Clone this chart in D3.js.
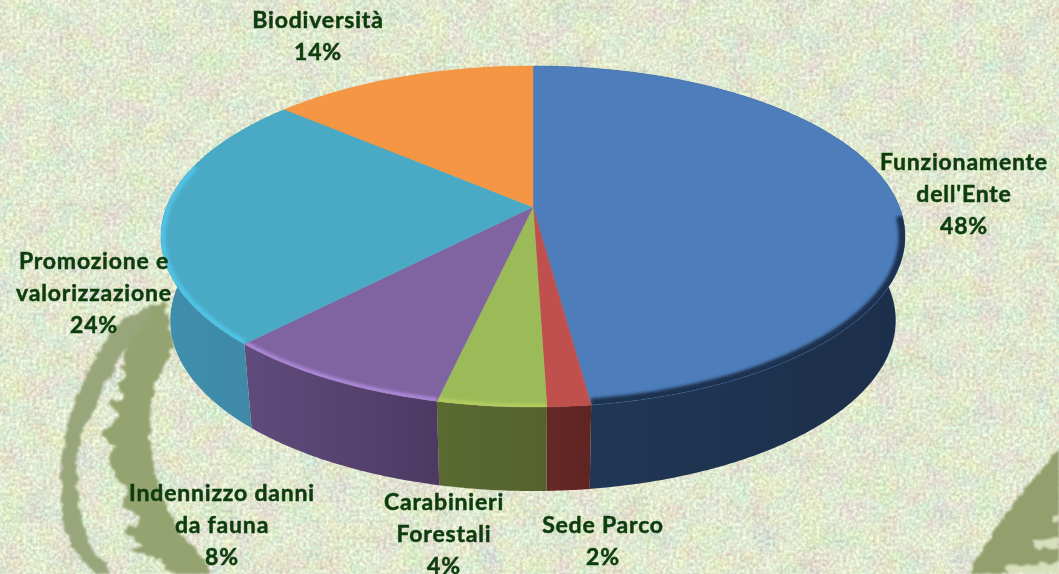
<html lang="it">
<head>
<style>
html, body { margin: 0; padding: 0; background: #dfe5c8; }
svg { display: block; }
.lbl { font-family: Lato, "Liberation Sans", sans-serif; font-weight: 700; font-size: 23px; letter-spacing: 0.8px; fill: #0c3c0c; stroke: #0c3c0c; stroke-width: 0.5px; text-anchor: middle; dominant-baseline: middle; }
</style>
</head>
<body>
<script src="https://d3js.org/d3.v7.min.js"></script>
<script>
// data (share of the circle, the printed labels are rounded)
const categories = ["Funzionamente dell'Ente", "Sede Parco", "Carabinieri Forestali", "Indennizzo danni da fauna", "Promozione e valorizzazione", "Biodiversità"];
const values = [47.9, 1.6, 4.0, 8.6, 24.3, 13.6];
const percentLabels = ["48%", "2%", "4%", "8%", "24%", "14%"];

// how each category name breaks over lines
const nameLines = [
  ["Funzionamente", "dell'Ente"],
  ["Sede Parco"],
  ["Carabinieri", "Forestali"],
  ["Indennizzo danni", "da fauna"],
  ["Promozione e", "valorizzazione"],
  ["Biodiversità"]
];

// styles
const topColors = ["#4d7dba", "#bf504d", "#9bbb59", "#8063a1", "#4aaac5", "#f49644"];
const rimColors = ["#1f3350", "#bf504d", "#b2cc5e", "#ab86d6", "#50c2e4", "#f49644"];
const rimWidths = [13, 4, 7, 7, 9, 4];
const wallLeft = ["#213857", "#652826", "#5a6a30", "#604c7c", "#408fae", "#f49644"];
const wallRight = ["#1c2f4a", "#5f2523", "#55622e", "#4d3a63", "#3d87a4", "#f49644"];

// layout of the labels: centre x, first line y
const labelX = [964, 603, 444, 222, 94, 318];
const labelY = [164, 527, 504, 495, 263, 22];
const lineStep = 32;

const width = 1059, height = 574;
const cx = 533, cy = 207;            // where the slices meet
const a = 366.4, b = 165.4, k = 0.173; // perspective of the disc
const depth = 84, bottomScaleX = 0.975, bottomScaleY = 1;

const svg = d3.select("body").append("svg")
  .attr("width", width)
  .attr("height", height);
const defs = svg.append("defs");

// paper texture of the slide background
const paper = defs.append("filter").attr("id", "paper")
  .attr("x", 0).attr("y", 0).attr("width", "100%").attr("height", "100%")
  .attr("color-interpolation-filters", "sRGB");
paper.append("feTurbulence").attr("type", "fractalNoise").attr("baseFrequency", 0.3).attr("numOctaves", 2).attr("seed", 7);
paper.append("feColorMatrix").attr("values", "0.12 0.28 0 0 0.68  0 0.34 0.06 0 0.71  0 0.28 0.12 0 0.61  0 0 0 0 1");

const blotch = defs.append("filter").attr("id", "blotch")
  .attr("x", 0).attr("y", 0).attr("width", "100%").attr("height", "100%")
  .attr("color-interpolation-filters", "sRGB");
blotch.append("feTurbulence").attr("type", "fractalNoise").attr("baseFrequency", 0.04).attr("numOctaves", 2).attr("seed", 11);
blotch.append("feColorMatrix").attr("values", "1.2 0 0 0 0.3  0 1.2 0 0 0.3  0 0 1.2 0 0.25  0 0 0 0 0.12");

// rough, mottled edge of the ornament
const rough = defs.append("filter").attr("id", "rough")
  .attr("filterUnits", "userSpaceOnUse")
  .attr("x", 0).attr("y", 0).attr("width", width).attr("height", height);
rough.append("feTurbulence").attr("type", "fractalNoise").attr("baseFrequency", 0.12).attr("numOctaves", 2).attr("seed", 4).attr("result", "n");
rough.append("feDisplacementMap").attr("in", "SourceGraphic").attr("in2", "n").attr("scale", 9).attr("xChannelSelector", "R").attr("yChannelSelector", "G");
rough.append("feGaussianBlur").attr("stdDeviation", 1);

defs.append("filter").attr("id", "rimBlur")
  .attr("filterUnits", "userSpaceOnUse")
  .attr("x", 0).attr("y", 0).attr("width", width).attr("height", height)
  .append("feGaussianBlur").attr("stdDeviation", 1.6);
defs.append("filter").attr("id", "textSoft").append("feGaussianBlur").attr("stdDeviation", 0.35);

svg.append("rect").attr("width", width).attr("height", height).attr("filter", "url(#paper)");
svg.append("rect").attr("width", width).attr("height", height).attr("filter", "url(#blotch)");

// the leaf ornament printed on the slide background
const ornamentOuter = [[160,305],[138,312],[120,322],[93,362],[72,410],[65,440],[60,493],[63,525],[73,547],[97,574],[110,574],[88,540],[78,493],[80,440],[94,410],[107,380],[133,340],[160,322]];
const ornamentInner = [[163,300],[150,312],[140,330],[128,345],[123,363],[127,378],[118,384],[122,398],[108,404],[120,414],[103,437],[116,446],[110,458],[117,480],[128,492],[122,505],[140,520],[126,532],[143,547],[128,548],[160,560],[173,574],[210,574],[177,527],[157,480],[150,430],[157,380],[173,347],[168,318]];
const ornamentRight = [[1059,450],[1030,482],[1000,522],[968,574],[1059,574]];
const ornamentHoles = [
  [[1033,540],[1059,537],[1059,548],[1036,549]],
  [[1005,566],[1059,563],[1059,574],[1008,574]],
  [[1053,516],[1059,516],[1059,522],[1053,522]]
];
const ornamentLine = d3.line().curve(d3.curveCatmullRomClosed.alpha(0.5));
const ornament = svg.append("g").attr("filter", "url(#rough)");
ornament.append("path").attr("d", ornamentLine(ornamentOuter)).attr("fill", "#99a67c");
ornament.append("path").attr("d", ornamentLine(ornamentInner)).attr("fill", "#94a370");
ornament.append("path").attr("d", d3.line()(ornamentRight.concat([[1070,574],[1070,440]])) + "Z").attr("fill", "#939f6c");
ornament.selectAll(".hole").data(ornamentHoles).enter().append("path")
  .attr("class", "hole")
  .attr("d", function(d) { return d3.line()(d) + "Z"; })
  .attr("fill", "#d8dfbd");

// angle on the disc -> point on the page
function project(angle, scaleX, scaleY, dz) {
  var u = Math.sin(angle), v = -Math.cos(angle);
  var w = 1 - k * v;
  return [cx + a * u * scaleX / w, cy + dz + b * v * scaleY / w];
}
function arcPoints(start, end, scaleX, scaleY, dz) {
  var n = Math.max(2, Math.ceil((end - start) / 0.01));
  return d3.range(n + 1).map(function(i) { return project(start + (end - start) * i / n, scaleX, scaleY, dz); });
}

const pie = d3.pie().sort(null).value(function(d) { return d; });
const slices = pie(values);
const line = d3.line();

// walls first, the top face covers whatever is behind it
slices.forEach(function(s, i) {
  var top = arcPoints(s.startAngle, s.endAngle, 1, 1, 0);
  var bottom = arcPoints(s.startAngle, s.endAngle, bottomScaleX, bottomScaleY, depth).reverse();
  var xs = d3.extent(top.concat(bottom), function(p) { return p[0]; });
  var grad = defs.append("linearGradient").attr("id", "wall" + i)
    .attr("gradientUnits", "userSpaceOnUse")
    .attr("x1", xs[0]).attr("x2", xs[1]).attr("y1", 0).attr("y2", 0);
  grad.append("stop").attr("offset", 0).attr("stop-color", wallLeft[i]);
  grad.append("stop").attr("offset", 1).attr("stop-color", wallRight[i]);
  svg.append("path")
    .attr("d", line(top.concat(bottom)) + "Z")
    .attr("fill", "url(#wall" + i + ")");
});

// top face with a bevel rim along the front edge
const rimFrom = 93 * Math.PI / 180, rimTo = 285 * Math.PI / 180;
slices.forEach(function(s, i) {
  var outline = [[cx, cy]].concat(arcPoints(s.startAngle, s.endAngle, 1, 1, 0));
  var d = line(outline) + "Z";
  defs.append("clipPath").attr("id", "face" + i).append("path").attr("d", d);
  svg.append("path").attr("d", d).attr("fill", topColors[i]).attr("stroke", topColors[i]).attr("stroke-width", 0.5);
  var from = Math.max(s.startAngle, rimFrom), to = Math.min(s.endAngle, rimTo);
  if (to > from) {
    svg.append("g").attr("clip-path", "url(#face" + i + ")")
      .append("path")
      .attr("d", line(arcPoints(from, to, 1, 1, 0)))
      .attr("fill", "none")
      .attr("stroke", rimColors[i])
      .attr("stroke-width", rimWidths[i])
      .attr("filter", "url(#rimBlur)");
  }
});

// labels: name lines, then the percentage
const labels = svg.append("g").attr("filter", "url(#textSoft)");
nameLines.forEach(function(name, i) {
  labels.selectAll(".l" + i).data(name.concat(percentLabels[i])).enter().append("text")
    .attr("class", "lbl l" + i)
    .attr("x", labelX[i])
    .attr("y", function(d, j) { return labelY[i] + j * lineStep; })
    .text(function(d) { return d; });
});
</script>
</body>
</html>
